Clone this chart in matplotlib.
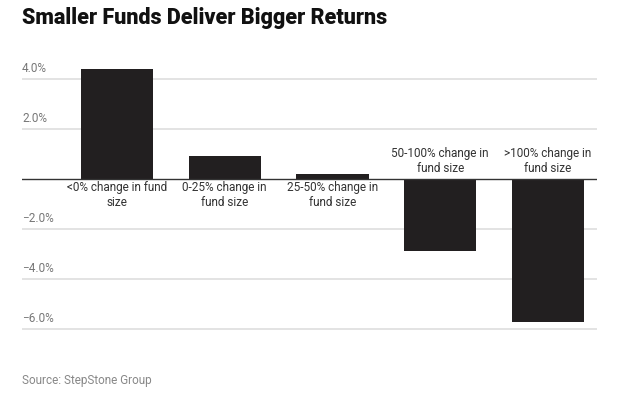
import matplotlib.pyplot as plt
from matplotlib import font_manager
from matplotlib.transforms import blended_transform_factory

# Data
categories = ['<0% change in fund\nsize', '0-25% change in\nfund size', '25-50% change in\nfund size',
              '50-100% change in\nfund size', '>100% change in\nfund size']
returns = [4.4, 0.9, 0.2, -2.9, -5.7]
ticks = [-6, -4, -2, 2, 4]
tick_labels = ['\u22126.0%', '\u22124.0%', '\u22122.0%', '2.0%', '4.0%']

names = {f.name for f in font_manager.fontManager.ttflist}
narrow = 'Liberation Sans Narrow' if 'Liberation Sans Narrow' in names else 'Roboto'

fig = plt.figure(figsize=(6.32, 4.19), dpi=100)
ax = fig.add_axes([22 / 632, 1 - 339 / 419, 575 / 632, 280 / 419])

x = list(range(len(categories)))
ax.bar(x, returns, width=0.67, color='#221f20', zorder=3)

for t in ticks:
    ax.axhline(t, color='#e3e3e3', lw=1.4, zorder=1)
ax.axhline(0, color='#333333', lw=1.0, zorder=4)

ax.set_xlim(-0.88, 4.455)
ax.set_ylim(-6.4, 4.8)
ax.axis('off')

trans = blended_transform_factory(ax.transAxes, ax.transData)
for t, lab in zip(ticks, tick_labels):
    ax.text(0, t + 0.17, lab, transform=trans, ha='left', va='bottom',
            fontsize=8.5, color='#777777', family=narrow)

for xi, val, lab in zip(x, returns, categories):
    if val >= 0:
        ax.text(xi, -0.1, lab, ha='center', va='top', fontsize=8.5,
                color='#333333', family=narrow, linespacing=1.15)
    else:
        ax.text(xi, 0.17, lab, ha='center', va='bottom', fontsize=8.5,
                color='#333333', family=narrow, linespacing=1.15)

fig.text(22 / 632, 1 - 18 / 419, 'Smaller Funds Deliver Bigger Returns', ha='left', va='center',
         fontsize=15.5, fontweight='heavy', color='#111111', family=narrow)
fig.text(22 / 632, 1 - 380 / 419, 'Source: StepStone Group', ha='left', va='center',
         fontsize=8.5, color='#888888', family=narrow)

fig.savefig('out.png', dpi=100)
